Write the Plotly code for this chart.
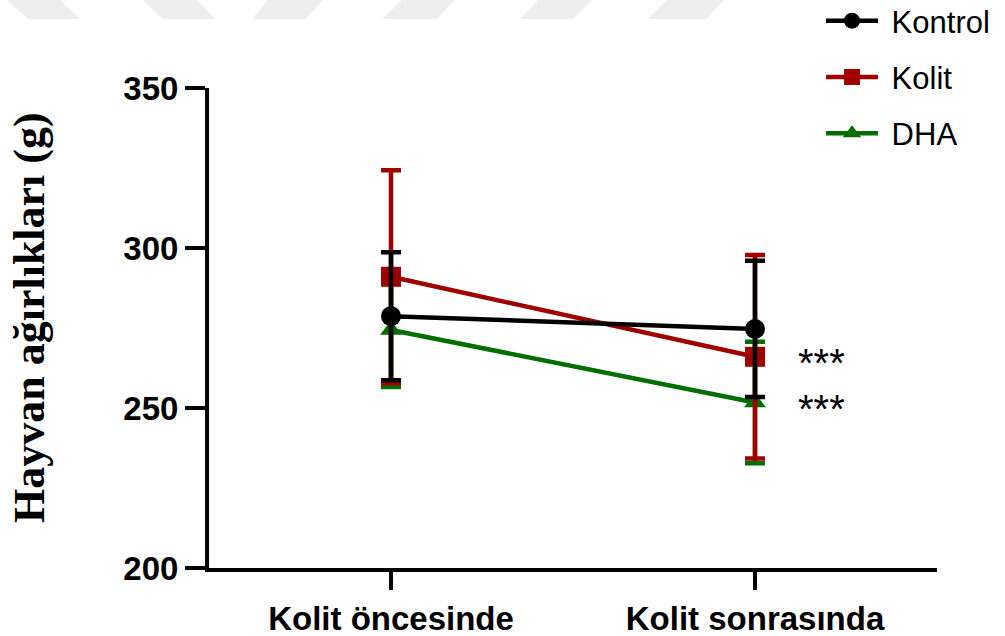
import plotly.graph_objects as go

# ---- data ----
categories = ["Kolit öncesinde", "Kolit sonrasında"]
kontrol_mean = [278.7, 274.7]
kontrol_err = [20.0, 21.3]
kolit_mean = [291.0, 266.0]
kolit_err = [33.3, 31.8]
dha_mean = [274.4, 251.7]
dha_err = [17.8, 19.0]
y_ticks = [200, 250, 300, 350]
star_labels = ["***", "***"]
y_title = "Hayvan ağırlıkları (g)"

# ---- styling ----
BLACK = "#000000"
RED = "#A00000"
GREEN = "#006E00"
SANS = "Liberation Sans, Arial, sans-serif"
SERIF = "Liberation Serif, Times New Roman, serif"

W, H = 1005, 636
ML, MR, MT, MB = 209, 68, 88, 68
PW, PH = W - ML - MR, H - MT - MB


def px_to_paper(px, py):
    return (px - ML) / PW, (H - MB - py) / PH


fig = go.Figure()

series = [
    ("DHA", dha_mean, dha_err, GREEN, "triangle-up", 19, 3),
    ("Kolit", kolit_mean, kolit_err, RED, "square", 20, 2),
    ("Kontrol", kontrol_mean, kontrol_err, BLACK, "circle", 20, 1),
]
for name, mean, err, color, symbol, size, rank in series:
    fig.add_trace(go.Scatter(
        x=categories, y=mean, name=" " + name, mode="lines+markers",
        line=dict(color=color, width=4.5),
        marker=dict(symbol=symbol, size=size, color=color, line=dict(width=0)),
        error_y=dict(type="data", array=err, visible=True,
                     color=color, thickness=4.5, width=10),
        legendgroup=name, legendrank=rank,
    ))

# significance stars next to Kolit and DHA after colitis
for label, yv in zip(star_labels, [kolit_mean[1], dha_mean[1]]):
    fig.add_annotation(
        x=1.184, y=yv, xref="x", yref="y", text=label, showarrow=False,
        font=dict(family=SANS, size=40, color=BLACK),
        xanchor="center", yanchor="middle", yshift=-6,
    )

# y-axis title (rotated)
tx, ty = px_to_paper(29, 318)
fig.add_annotation(
    x=tx, y=ty, xref="paper", yref="paper", text=y_title, showarrow=False,
    textangle=-90, xanchor="center", yanchor="middle",
    font=dict(family=SERIF, size=44, color=BLACK, weight="bold"),
)

# faint watermark stripes at top of image
stripes = [
    [(7, 0), (60, 0), (80, 19), (28, 19)],
    [(143, 0), (197, 0), (215, 19), (163, 19)],
    [(268, 0), (323, 0), (305, 19), (252, 19)],
    [(402, 0), (455, 0), (437, 19), (382, 19)],
    [(538, 0), (592, 0), (573, 19), (520, 19)],
    [(667, 0), (723, 0), (707, 19), (648, 19)],
]
for poly in stripes:
    pts = [px_to_paper(px, py) for px, py in poly]
    path = "M " + " L ".join(f"{x:.5f},{y:.5f}" for x, y in pts) + " Z"
    fig.add_shape(type="path", path=path, xref="paper", yref="paper",
                  fillcolor="#EEEEEE", line=dict(width=0), layer="below")

fig.update_layout(
    width=W, height=H,
    margin=dict(l=ML, r=MR, t=MT, b=MB, autoexpand=False),
    paper_bgcolor="white", plot_bgcolor="white",
    showlegend=True,
    legend=dict(
        x=px_to_paper(821, 0)[0], y=px_to_paper(0, -6)[1],
        xanchor="left", yanchor="top",
        font=dict(family=SANS, size=31, color=BLACK),
        bgcolor="rgba(0,0,0,0)", borderwidth=0,
        tracegroupgap=13, itemwidth=52,
    ),
    xaxis=dict(
        type="category", range=[-0.5, 1.5],
        showline=True, linewidth=4, linecolor=BLACK,
        ticks="outside", ticklen=18, tickwidth=4, tickcolor=BLACK,
        tickfont=dict(family=SANS, size=33, color=BLACK, weight="bold"),
        showgrid=False, zeroline=False,
    ),
    yaxis=dict(
        range=[200, 350], tickvals=y_ticks,
        showline=True, linewidth=4, linecolor=BLACK,
        ticks="outside", ticklen=20, tickwidth=4, tickcolor=BLACK,
        tickfont=dict(family=SANS, size=33, color=BLACK, weight="bold"),
        showgrid=False, zeroline=False,
    ),
)

fig.write_html("out.html", config={"displayModeBar": False},
               post_script="document.body.style.margin='0px';")
